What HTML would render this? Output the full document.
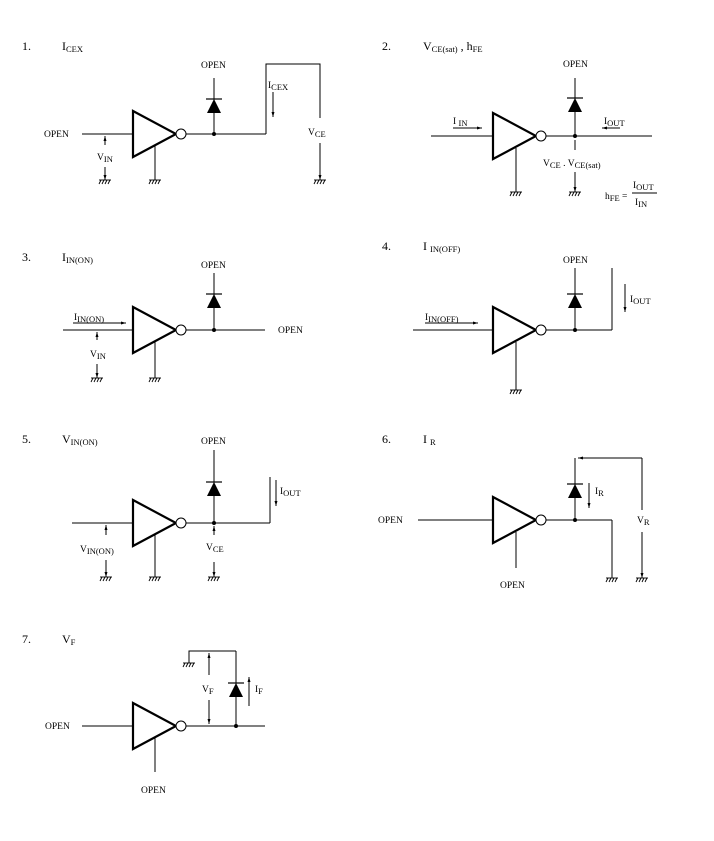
<!DOCTYPE html>
<html><head><meta charset="utf-8"><style>
html,body{margin:0;padding:0;background:#fff}
svg{display:block}
text{font-family:"Liberation Serif",serif;fill:#000}
.t{font-size:12px}
.s{font-size:9.5px}
.sub{font-size:8.5px}
</style></head><body>
<svg width="714" height="841" viewBox="0 0 714 841" xmlns="http://www.w3.org/2000/svg">
<defs>
<g id="gate"><polygon points="0,-23 0,23 43,0" fill="none" stroke="#000" stroke-width="2.2"/><circle cx="48" cy="0" r="5" fill="#fff" stroke="#000" stroke-width="1"/></g>
<g id="diode"><line x1="-8" y1="0" x2="8" y2="0" stroke="#000" stroke-width="1.2"/><polygon points="0,0 -7,14 7,14" fill="#000"/></g>
<g id="gnd" stroke="#000" stroke-width="0.9"><line x1="-6" y1="0" x2="6" y2="0"/><line x1="-6" y1="4" x2="-4" y2="0"/><line x1="-3" y1="4" x2="-1" y2="0"/><line x1="0" y1="4" x2="2" y2="0"/><line x1="3" y1="4" x2="5" y2="0"/></g>
<marker id="ar" markerWidth="6" markerHeight="6" refX="5" refY="3" orient="auto" markerUnits="userSpaceOnUse"><path d="M0,1.5 L5,3 L0,4.5z" fill="#000"/></marker>
</defs>
<g stroke="#000" stroke-width="1" fill="none">
<!-- Panel 1 -->
<line x1="82" y1="134" x2="133" y2="134"/>
<line x1="155" y1="146" x2="155" y2="180"/>
<line x1="186" y1="134" x2="266" y2="134"/>
<polyline points="266,134 266,64 320,64 320,118"/>
<line x1="320" y1="143" x2="320" y2="180" marker-end="url(#ar)"/>
<line x1="214" y1="78" x2="214" y2="134"/>
<line x1="105" y1="145" x2="105" y2="136" marker-end="url(#ar)"/>
<line x1="105" y1="167" x2="105" y2="180" marker-end="url(#ar)"/>
<line x1="273" y1="92" x2="273" y2="117" marker-end="url(#ar)"/>
<!-- Panel 2 -->
<line x1="431" y1="136" x2="493" y2="136"/>
<line x1="516" y1="148" x2="516" y2="192"/>
<line x1="546" y1="136" x2="652" y2="136"/>
<line x1="575" y1="78" x2="575" y2="136"/>
<line x1="575" y1="140" x2="575" y2="150"/>
<line x1="575" y1="172" x2="575" y2="192" marker-end="url(#ar)"/>
<line x1="453" y1="128" x2="482" y2="128" marker-end="url(#ar)"/>
<line x1="620" y1="128" x2="602" y2="128" marker-end="url(#ar)"/>
<line x1="632" y1="193" x2="657" y2="193"/>
<!-- Panel 3 -->
<line x1="63" y1="330" x2="133" y2="330"/>
<line x1="155" y1="342" x2="155" y2="378"/>
<line x1="186" y1="330" x2="265" y2="330"/>
<line x1="214" y1="273" x2="214" y2="330"/>
<line x1="73" y1="323" x2="126" y2="323" marker-end="url(#ar)"/>
<line x1="97" y1="340" x2="97" y2="332" marker-end="url(#ar)"/>
<line x1="97" y1="364" x2="97" y2="378" marker-end="url(#ar)"/>
<!-- Panel 4 -->
<line x1="413" y1="330" x2="493" y2="330"/>
<line x1="516" y1="342" x2="516" y2="390"/>
<line x1="546" y1="330" x2="612" y2="330"/>
<line x1="612" y1="330" x2="612" y2="268"/>
<line x1="575" y1="268" x2="575" y2="330"/>
<line x1="625" y1="284" x2="625" y2="312" marker-end="url(#ar)"/>
<line x1="425" y1="323" x2="478" y2="323" marker-end="url(#ar)"/>
<!-- Panel 5 -->
<line x1="72" y1="523" x2="133" y2="523"/>
<line x1="155" y1="535" x2="155" y2="577"/>
<line x1="186" y1="523" x2="270" y2="523"/>
<line x1="270" y1="523" x2="270" y2="477"/>
<line x1="214" y1="450" x2="214" y2="523"/>
<line x1="276" y1="480" x2="276" y2="506" marker-end="url(#ar)"/>
<line x1="106" y1="535" x2="106" y2="525" marker-end="url(#ar)"/>
<line x1="106" y1="560" x2="106" y2="577" marker-end="url(#ar)"/>
<line x1="214" y1="535" x2="214" y2="526" marker-end="url(#ar)"/>
<line x1="214" y1="562" x2="214" y2="577" marker-end="url(#ar)"/>
<!-- Panel 6 -->
<line x1="418" y1="520" x2="493" y2="520"/>
<line x1="516" y1="532" x2="516" y2="568"/>
<line x1="546" y1="520" x2="612" y2="520"/>
<line x1="612" y1="520" x2="612" y2="578"/>
<line x1="575" y1="520" x2="575" y2="458"/>
<line x1="642" y1="458" x2="578" y2="458" marker-end="url(#ar)"/>
<line x1="642" y1="458" x2="642" y2="510"/>
<line x1="642" y1="532" x2="642" y2="578" marker-end="url(#ar)"/>
<line x1="589" y1="483" x2="589" y2="508" marker-end="url(#ar)"/>
<!-- Panel 7 -->
<line x1="82" y1="726" x2="133" y2="726"/>
<line x1="155" y1="738" x2="155" y2="772"/>
<line x1="186" y1="726" x2="265" y2="726"/>
<line x1="236" y1="651" x2="236" y2="726"/>
<polyline points="236,651 189,651 189,663"/>
<line x1="209" y1="675" x2="209" y2="653" marker-end="url(#ar)"/>
<line x1="209" y1="700" x2="209" y2="724" marker-end="url(#ar)"/>
<line x1="249" y1="706" x2="249" y2="677" marker-end="url(#ar)"/>
</g>
<use href="#gate" x="133" y="134"/>
<use href="#gate" x="493" y="136"/>
<use href="#gate" x="133" y="330"/>
<use href="#gate" x="493" y="330"/>
<use href="#gate" x="133" y="523"/>
<use href="#gate" x="493" y="520"/>
<use href="#gate" x="133" y="726"/>
<use href="#diode" x="214" y="99"/>
<use href="#diode" x="575" y="98"/>
<use href="#diode" x="214" y="294"/>
<use href="#diode" x="575" y="294"/>
<use href="#diode" x="214" y="482"/>
<use href="#diode" x="575" y="484"/>
<use href="#diode" x="236" y="683"/>
<g fill="#000"><circle cx="214" cy="134" r="2"/><circle cx="575" cy="136" r="2"/><circle cx="214" cy="330" r="2"/><circle cx="575" cy="330" r="2"/><circle cx="214" cy="523" r="2"/><circle cx="575" cy="520" r="2"/><circle cx="236" cy="726" r="2"/></g>
<use href="#gnd" x="105" y="180"/><use href="#gnd" x="155" y="180"/><use href="#gnd" x="320" y="180"/>
<use href="#gnd" x="516" y="192"/><use href="#gnd" x="575" y="192"/>
<use href="#gnd" x="97" y="378"/><use href="#gnd" x="155" y="378"/>
<use href="#gnd" x="516" y="390"/>
<use href="#gnd" x="106" y="577"/><use href="#gnd" x="155" y="577"/><use href="#gnd" x="214" y="577"/>
<use href="#gnd" x="612" y="578"/><use href="#gnd" x="642" y="578"/>
<use href="#gnd" x="189" y="663"/>
<g class="t">
<text x="22" y="50">1.</text><text x="62" y="50">I<tspan class="sub" dy="2">CEX</tspan></text>
<text x="382" y="50">2.</text><text x="423" y="50">V<tspan class="sub" dy="2">CE(sat)</tspan><tspan dy="-2"> , h</tspan><tspan class="sub" dy="2">FE</tspan></text>
<text x="22" y="261">3.</text><text x="62" y="261">I<tspan class="sub" dy="2">IN(ON)</tspan></text>
<text x="382" y="250">4.</text><text x="423" y="250">I <tspan class="sub" dy="2">IN(OFF)</tspan></text>
<text x="22" y="443">5.</text><text x="62" y="443">V<tspan class="sub" dy="2">IN(ON)</tspan></text>
<text x="382" y="443">6.</text><text x="423" y="443">I <tspan class="sub" dy="2">R</tspan></text>
<text x="22" y="643">7.</text><text x="62" y="643">V<tspan class="sub" dy="2">F</tspan></text>
</g>
<g class="s">
<text x="44" y="137">OPEN</text>
<text x="201" y="68">OPEN</text>
<text x="563" y="67">OPEN</text>
<text x="201" y="268">OPEN</text>
<text x="278" y="333">OPEN</text>
<text x="563" y="263">OPEN</text>
<text x="201" y="444">OPEN</text>
<text x="378" y="523">OPEN</text>
<text x="500" y="588">OPEN</text>
<text x="45" y="729">OPEN</text>
<text x="141" y="793">OPEN</text>
<text x="97" y="160">V<tspan class="sub" dy="2">IN</tspan></text>
<text x="268" y="88">I<tspan class="sub" dy="2">CEX</tspan></text>
<text x="308" y="135">V<tspan class="sub" dy="2">CE</tspan></text>
<text x="453" y="124">I <tspan class="sub" dy="2">IN</tspan></text>
<text x="604" y="124">I<tspan class="sub" dy="2">OUT</tspan></text>
<text x="543" y="166">V<tspan class="sub" dy="2">CE</tspan><tspan dy="-2"> . V</tspan><tspan class="sub" dy="2">CE(sat)</tspan></text>
<text x="605" y="199">h<tspan class="sub" dy="2">FE</tspan><tspan dy="-2"> =</tspan></text>
<text x="633" y="188">I<tspan class="sub" dy="2">OUT</tspan></text>
<text x="635" y="205">I<tspan class="sub" dy="2">IN</tspan></text>
<text x="74" y="320">I<tspan class="sub" dy="2">IN(ON)</tspan></text>
<text x="90" y="357">V<tspan class="sub" dy="2">IN</tspan></text>
<text x="425" y="320">I<tspan class="sub" dy="2">IN(OFF)</tspan></text>
<text x="630" y="302">I<tspan class="sub" dy="2">OUT</tspan></text>
<text x="280" y="494">I<tspan class="sub" dy="2">OUT</tspan></text>
<text x="80" y="552">V<tspan class="sub" dy="2">IN(ON)</tspan></text>
<text x="206" y="550">V<tspan class="sub" dy="2">CE</tspan></text>
<text x="595" y="494">I<tspan class="sub" dy="2">R</tspan></text>
<text x="637" y="523">V<tspan class="sub" dy="2">R</tspan></text>
<text x="202" y="692">V<tspan class="sub" dy="2">F</tspan></text>
<text x="255" y="692">I<tspan class="sub" dy="2">F</tspan></text>
</g>
</svg>
</body></html>
